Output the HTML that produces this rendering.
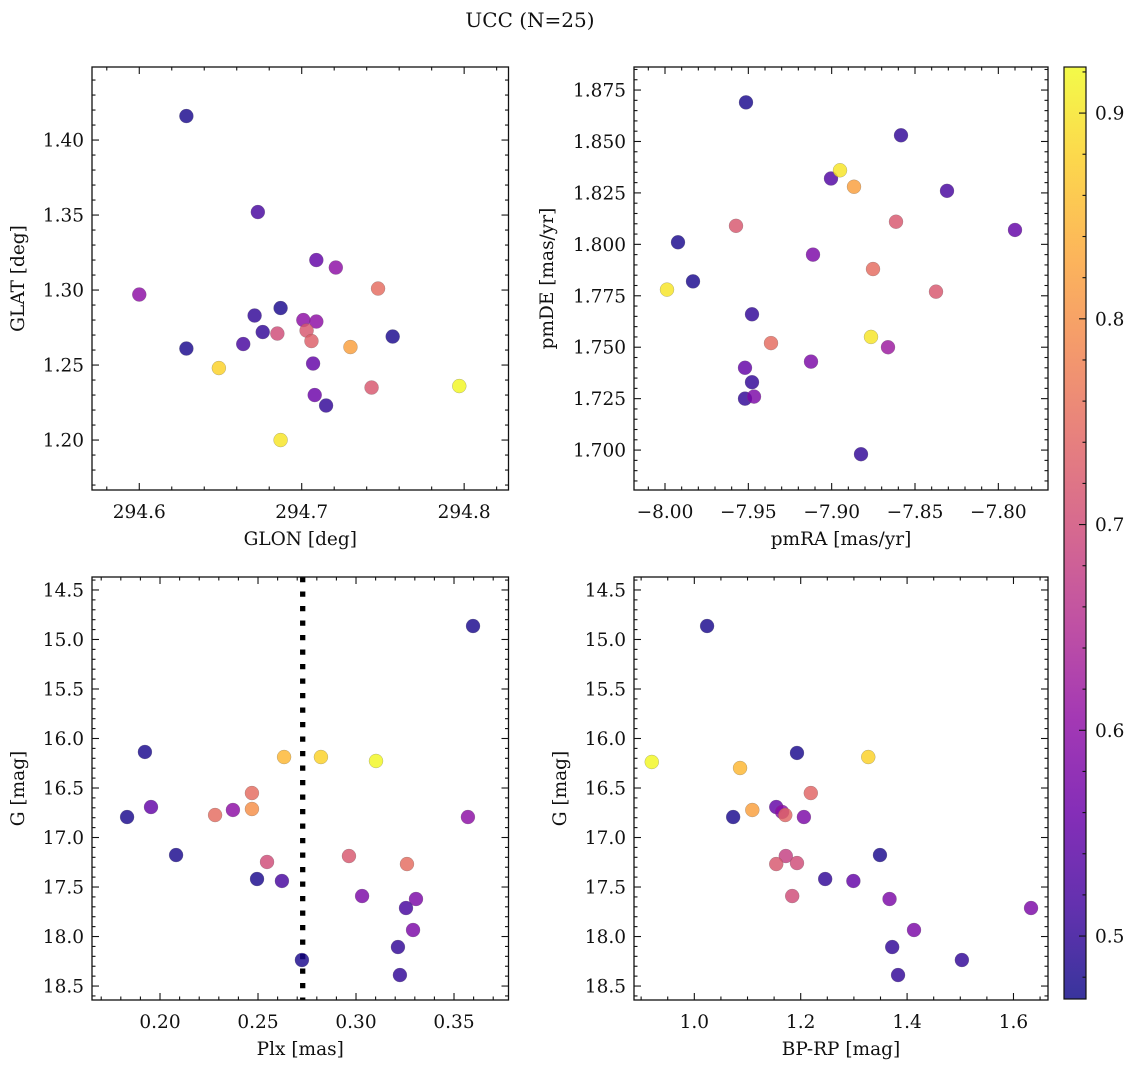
<!DOCTYPE html>
<html><head><meta charset="utf-8">
<style>
html,body{margin:0;padding:0;background:#fff;}
svg text{font-family:"DejaVu Serif","Liberation Serif",serif;fill:#111;}
</style></head>
<body>
<svg id="fig" width="1136" height="1067" viewBox="0 0 1136 1067" xmlns="http://www.w3.org/2000/svg">
<defs>
<linearGradient id="plasmaGrad" x1="0" y1="1" x2="0" y2="0"></linearGradient>
</defs>
<text x="530" y="27" font-size="20" text-anchor="middle">UCC (N=25)</text>
</svg>
<script>
// ---- data ----
const probTL = [0.48,0.52,0.6,0.48,0.5,0.5,0.52,0.48,0.7,0.55,0.6,0.75,0.6,0.6,0.72,0.73,0.55,0.48,0.82,0.88,0.56,0.5,0.72,0.92,0.9];
const glon = [294.629,294.673,294.600,294.629,294.671,294.676,294.664,294.687,294.685,294.709,294.721,294.747,294.701,294.709,294.703,294.706,294.707,294.756,294.730,294.649,294.708,294.715,294.743,294.797,294.687];
const glat = [1.416,1.352,1.297,1.261,1.283,1.272,1.264,1.288,1.271,1.320,1.315,1.301,1.280,1.279,1.273,1.266,1.251,1.269,1.262,1.248,1.230,1.223,1.235,1.236,1.200];

const probTR = [0.48,0.5,0.53,0.9,0.82,0.52,0.48,0.72,0.9,0.48,0.58,0.72,0.75,0.55,0.72,0.5,0.75,0.55,0.5,0.5,0.58,0.58,0.9,0.62,0.5];
const pmRA = [-7.9514,-7.8584,-7.9004,-7.8950,-7.8866,-7.8308,-7.9922,-7.9574,-7.9988,-7.9832,-7.9112,-7.8614,-7.8752,-7.7900,-7.8374,-7.9478,-7.9364,-7.9520,-7.9478,-7.9520,-7.9466,-7.9124,-7.8764,-7.8662,-7.8824];
const pmDE = [1.869,1.853,1.832,1.836,1.828,1.826,1.801,1.809,1.778,1.782,1.795,1.811,1.788,1.807,1.777,1.766,1.752,1.740,1.733,1.725,1.726,1.743,1.755,1.750,1.698];

const probBL = [0.48,0.48,0.55,0.48,0.75,0.6,0.75,0.8,0.85,0.88,0.92,0.48,0.7,0.48,0.52,0.72,0.75,0.6,0.58,0.58,0.52,0.58,0.5,0.48,0.5];
const plx = [0.3597,0.1923,0.1954,0.1832,0.2281,0.2372,0.2469,0.2469,0.2633,0.2821,0.3102,0.2082,0.2546,0.2495,0.2622,0.2964,0.3260,0.3571,0.3031,0.3306,0.3255,0.3291,0.3214,0.2724,0.3224];
const gmagBL = [14.864,16.136,16.692,16.793,16.773,16.722,16.551,16.712,16.187,16.187,16.227,17.177,17.247,17.419,17.439,17.187,17.268,16.793,17.591,17.621,17.712,17.934,18.106,18.237,18.389];
const plxCut = [0.2728];

const probBR = [0.48,0.92,0.85,0.48,0.88,0.74,0.48,0.82,0.55,0.6,0.74,0.58,0.68,0.72,0.7,0.48,0.5,0.55,0.7,0.58,0.58,0.58,0.5,0.5,0.5];
const bprp = [1.024,0.920,1.086,1.193,1.327,1.219,1.073,1.109,1.154,1.165,1.171,1.206,1.172,1.154,1.193,1.349,1.246,1.299,1.184,1.367,1.413,1.633,1.372,1.503,1.383];
const gmagBR = [14.864,16.237,16.298,16.146,16.187,16.551,16.793,16.722,16.692,16.742,16.773,16.793,17.187,17.268,17.258,17.177,17.419,17.439,17.591,17.621,17.934,17.712,18.106,18.237,18.389];

const cbTicks = [0.5,0.6,0.7,0.8,0.9];
const cbRange = [0.4694,0.9224];

// ---- colormap ----
const plasmaStops = ['#0d0887','#41049d','#6a00a8','#8f0da4','#b12a90','#cc4778','#e16462','#f2844b','#fca636','#fcce25','#f0f921'];
function hex(h){return [parseInt(h.substr(1,2),16),parseInt(h.substr(3,2),16),parseInt(h.substr(5,2),16)];}
function plasma(t){
  t=Math.max(0,Math.min(1,t));
  const s=t*10, i=Math.min(9,Math.floor(s)), f=s-i;
  const a=hex(plasmaStops[i]), b=hex(plasmaStops[i+1]);
  return 'rgb('+a.map((v,k)=>Math.round(v+(b[k]-v)*f)).join(',')+')';
}
function cnorm(v){return (v-cbRange[0])/(cbRange[1]-cbRange[0]);}

const NS='http://www.w3.org/2000/svg';
const svg=document.getElementById('fig');
function mk(tag,attrs,parent){const e=document.createElementNS(NS,tag);for(const k in attrs)e.setAttribute(k,attrs[k]);(parent||svg).appendChild(e);return e;}

function fmt(v,d){return v.toFixed(d).replace('-','\u2212');}
const FS=18.5;

function panel(cfg){
  const g=mk('g',{});
  
  
  const X=v=>cfg.x0+(v-cfg.xd[0])/(cfg.xd[1]-cfg.xd[0])*(cfg.x1-cfg.x0);
  const Y=cfg.yinv ? (v=>cfg.y0+(v-cfg.yd[0])/(cfg.yd[1]-cfg.yd[0])*(cfg.y1-cfg.y0))
                   : (v=>cfg.y1-(v-cfg.yd[0])/(cfg.yd[1]-cfg.yd[0])*(cfg.y1-cfg.y0));
  if(cfg.vline){
    cfg.vline.forEach(v=>{
      const l=mk('line',{x1:X(v),x2:X(v),y1:cfg.y0,y2:cfg.y1,stroke:'#000','stroke-width':5.3,'stroke-dasharray':'5.3 9.2'},g);
      
      
    });
  }
  cfg.xs.forEach((xv,i)=>{
    const c=mk('circle',{cx:X(xv),cy:Y(cfg.ys[i]),r:7,fill:plasma(cnorm(cfg.cs[i])),'fill-opacity':0.82,stroke:'#666','stroke-width':0.4,'stroke-opacity':0.6},g);
    
    
  });
  const fr=mk('rect',{x:cfg.x0,y:cfg.y0,width:cfg.x1-cfg.x0,height:cfg.y1-cfg.y0,fill:'none',stroke:'#111','stroke-width':1.3},g);
  
  
  const tk={stroke:'#111','stroke-width':1.1};
  const eps=1e-9;
  for(let v=Math.ceil(cfg.xd[0]/cfg.xmin-eps)*cfg.xmin; v<=cfg.xd[1]+eps; v+=cfg.xmin){
    const isMaj=Math.abs(v/cfg.xmaj-Math.round(v/cfg.xmaj))<1e-4;
    const L=isMaj?7:3.5, px=X(v);
    mk('line',Object.assign({x1:px,x2:px,y1:cfg.y1,y2:cfg.y1-L},tk),g);
    mk('line',Object.assign({x1:px,x2:px,y1:cfg.y0,y2:cfg.y0+L},tk),g);
    if(isMaj){
      const t=mk('text',{x:px,y:cfg.y1+28,'font-size':FS,'text-anchor':'middle'},g);
      t.textContent=fmt(v,cfg.xdec);
      
      
    }
  }
  for(let v=Math.ceil(cfg.yd[0]/cfg.ymin-eps)*cfg.ymin; v<=cfg.yd[1]+eps; v+=cfg.ymin){
    const isMaj=Math.abs(v/cfg.ymaj-Math.round(v/cfg.ymaj))<1e-4;
    const L=isMaj?7:3.5, py=Y(v);
    mk('line',Object.assign({x1:cfg.x0,x2:cfg.x0+L,y1:py,y2:py},tk),g);
    mk('line',Object.assign({x1:cfg.x1,x2:cfg.x1-L,y1:py,y2:py},tk),g);
    if(isMaj){
      const t=mk('text',{x:cfg.x0-8,y:py+6.5,'font-size':FS,'text-anchor':'end'},g);
      t.textContent=fmt(v,cfg.ydec);
      
      
    }
  }
  const xl=mk('text',{x:(cfg.x0+cfg.x1)/2,y:cfg.y1+55,'font-size':FS,'text-anchor':'middle'},g);
  xl.textContent=cfg.xlabel;
  
  
  const yx=cfg.ylx, yy=(cfg.y0+cfg.y1)/2;
  const yl=mk('text',{x:yx,y:yy,'font-size':FS,'text-anchor':'middle',transform:'rotate(-90 '+yx+' '+yy+')'},g);
  yl.textContent=cfg.ylabel;
  
  
}

panel({name:'glon-glat-panel',x0:92,x1:508.5,y0:67,y1:490,xd:[294.5709,294.8273],yd:[1.1667,1.4487],
  xmaj:0.1,xmin:0.02,ymaj:0.05,ymin:0.01,xdec:1,ydec:2,xs:glon,ys:glat,cs:probTL,xlabel:'GLON [deg]',ylabel:'GLAT [deg]',ylx:24});
panel({name:'pm-panel',x0:634,x1:1048,y0:67,y1:490,xd:[-8.0186,-7.7702],yd:[1.6806,1.8862],
  xmaj:0.05,xmin:0.01,ymaj:0.025,ymin:0.005,xdec:2,ydec:3,xs:pmRA,ys:pmDE,cs:probTR,xlabel:'pmRA [mas/yr]',ylabel:'pmDE [mas/yr]',ylx:553});
panel({name:'plx-g-panel',x0:92,x1:508.5,y0:577,y1:1000,xd:[0.1653,0.3778],yd:[14.369,18.641],yinv:true,
  xmaj:0.05,xmin:0.01,ymaj:0.5,ymin:0.1,xdec:2,ydec:1,xs:plx,ys:gmagBL,cs:probBL,xlabel:'Plx [mas]',ylabel:'G [mag]',ylx:24,vline:plxCut});
panel({name:'cmd-panel',x0:634,x1:1048,y0:577,y1:1000,xd:[0.8866,1.6649],yd:[14.369,18.641],yinv:true,
  xmaj:0.2,xmin:0.05,ymaj:0.5,ymin:0.1,xdec:1,ydec:1,xs:bprp,ys:gmagBR,cs:probBR,xlabel:'BP-RP [mag]',ylabel:'G [mag]',ylx:566});

// ---- colorbar ----
const grad=document.getElementById('plasmaGrad');
plasmaStops.forEach((c,i)=>{mk('stop',{offset:(i/10),'stop-color':c,'stop-opacity':0.82},grad);});
const cb=mk('g',{});


const cbx0=1064,cbx1=1086,cby0=67,cby1=999;
const CY=v=>cby1-(v-cbRange[0])/(cbRange[1]-cbRange[0])*(cby1-cby0);
mk('rect',{x:cbx0,y:cby0,width:cbx1-cbx0,height:cby1-cby0,fill:'url(#plasmaGrad)',stroke:'#111','stroke-width':1.2},cb);
for(let v=Math.ceil(cbRange[0]/0.02)*0.02; v<=cbRange[1]; v+=0.02){
  const isMaj=Math.abs(v*10-Math.round(v*10))<1e-4;
  const py=CY(v), L=isMaj?7:3.5;
  mk('line',{x1:cbx1,x2:cbx1-L,y1:py,y2:py,stroke:'#111','stroke-width':1.1},cb);
}
cbTicks.forEach(v=>{
  const t=mk('text',{x:cbx1+9,y:CY(v)+6.5,'font-size':FS},cb);
  t.textContent=v.toFixed(1);
  
  
});
</script>
</body></html>
